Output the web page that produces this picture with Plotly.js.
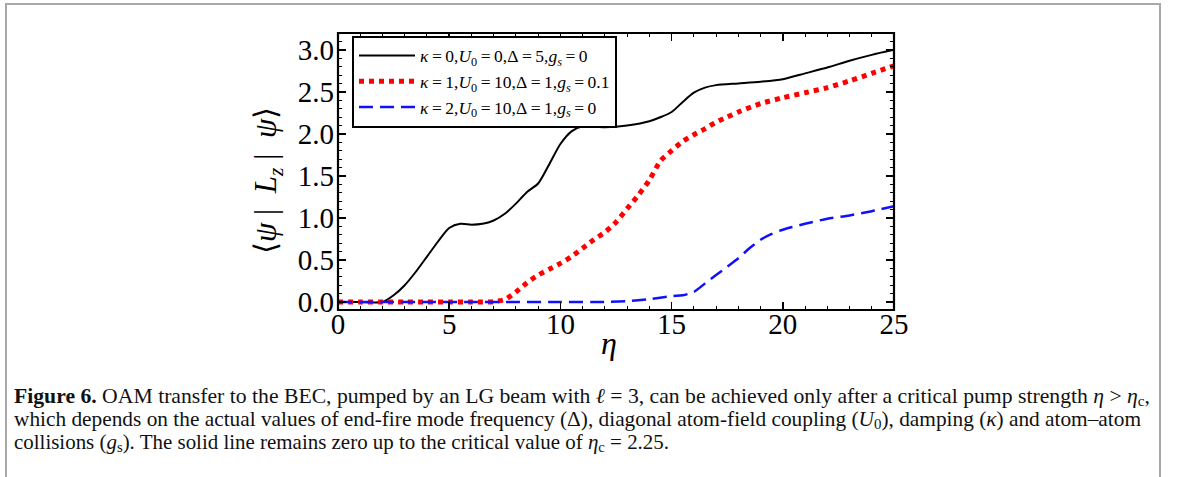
<!DOCTYPE html>
<html>
<head>
<meta charset="utf-8">
<script src="https://cdn.plot.ly/plotly-3.0.1.min.js"></script>
<style>
  html, body { margin:0; padding:0; background:#fff; }
  #wrap { position:relative; width:1179px; height:477px; overflow:hidden; background:#fff; }
  #plot { position:absolute; left:0; top:0; width:1179px; height:477px; }
  #frame { position:absolute; left:5px; top:3px; width:1156px; height:480px; border:2px solid #a8a8a8; box-sizing:border-box; pointer-events:none; }
  .cap { position:absolute; left:14px; white-space:nowrap; font-family:"Liberation Serif", serif; font-size:21px; line-height:23px; color:#111; transform-origin:0 50%; }
  .cap sub { font-size:70%; vertical-align:-3px; line-height:0; }
</style>
</head>
<body>
<div id="wrap">
  <div id="plot"></div>
  <div id="frame"></div>
  <div class="cap" id="c1" data-w="1136" style="top:385px"><b>Figure 6.</b> OAM transfer to the BEC, pumped by an LG beam with <i>ℓ</i> = 3, can be achieved only after a critical pump strength <i>η</i> &gt; <i>η</i><sub>c</sub>,</div>
  <div class="cap" id="c2" data-w="1127" style="top:408px">which depends on the actual values of end-fire mode frequency (Δ), diagonal atom-field coupling (<i>U</i><sub>0</sub>), damping (<i>κ</i>) and atom–atom</div>
  <div class="cap" id="c3" data-w="655" style="top:431px">collisions (<i>g</i><sub>s</sub>). The solid line remains zero up to the critical value of <i>η</i><sub>c</sub> = 2.25.</div>
</div>
<script>
// ---- data ----
var etaBlack = [0,1,2,2.5,3,3.5,4,4.5,5,5.5,6,6.5,7,7.5,8,8.5,9,9.5,10,10.5,11,12,13,14,15,15.5,16,16.5,17,18,19,20,21,22,23,24,25];
var lzBlack  = [0,0,0,0.08,0.2,0.36,0.54,0.72,0.88,0.93,0.92,0.93,0.97,1.05,1.17,1.31,1.41,1.64,1.88,2.03,2.09,2.08,2.10,2.15,2.26,2.38,2.49,2.55,2.58,2.60,2.62,2.65,2.72,2.79,2.87,2.94,3.00];

var etaRed = [0,1,2,3,4,5,6,6.5,7,7.5,8,8.5,9,9.5,10,10.5,11,11.5,12,12.5,13,13.5,14,14.5,15,15.5,16,16.5,17,17.5,18,19,20,21,22,23,24,25];
var lzRed  = [0,0,0,0,0,0,0,0,0.005,0.03,0.12,0.23,0.32,0.39,0.46,0.54,0.64,0.74,0.83,0.95,1.11,1.27,1.45,1.68,1.80,1.91,1.99,2.06,2.14,2.20,2.26,2.36,2.43,2.49,2.55,2.63,2.72,2.81];

var etaBlue = [0,2,4,6,8,10,12,13,14,15,15.5,16,16.5,17,17.5,18,18.5,19,19.5,20,21,22,23,24,25];
var lzBlue  = [0,0,0,0,0,0,0,0.01,0.035,0.07,0.08,0.12,0.22,0.32,0.42,0.52,0.64,0.74,0.81,0.86,0.93,0.99,1.03,1.08,1.14];

var th = "\u2009";
var nameBlack = "<i>κ</i>"+th+"="+th+"0,<i>U</i><sub>0</sub>"+th+"="+th+"0,Δ"+th+"="+th+"5,<i>g</i><sub><i>s</i></sub>"+th+"="+th+"0";
var nameRed   = "<i>κ</i>"+th+"="+th+"1,<i>U</i><sub>0</sub>"+th+"="+th+"10,Δ"+th+"="+th+"1,<i>g</i><sub><i>s</i></sub>"+th+"="+th+"0.1";
var nameBlue  = "<i>κ</i>"+th+"="+th+"2,<i>U</i><sub>0</sub>"+th+"="+th+"10,Δ"+th+"="+th+"1,<i>g</i><sub><i>s</i></sub>"+th+"="+th+"0";

var xTickVals = [0,5,10,15,20,25];
var yTickVals = [0,0.5,1,1.5,2,2.5,3];

var serif = "Liberation Serif, Times New Roman, serif";

var traces = [
  {x: etaBlack, y: lzBlack, name: nameBlack, mode: 'lines',
   line: {color: '#000', width: 2, shape: 'spline', smoothing: 0.7}},
  {x: etaRed, y: lzRed, name: nameRed, mode: 'lines',
   line: {color: '#ff0000', width: 5, dash: '5px,5px', shape: 'spline', smoothing: 0.7}},
  {x: etaBlue, y: lzBlue, name: nameBlue, mode: 'lines',
   line: {color: '#1010ff', width: 2.5, dash: '14px,7px', shape: 'spline', smoothing: 0.7}},
  // empty trace that carries the mirrored top/right tick axes
  {x: [], y: [], xaxis: 'x2', yaxis: 'y2', showlegend: false, hoverinfo: 'skip'}
];

var L = 338, R = 894, T = 33, B = 310;
var tickCommon = {ticks: 'inside', ticklen: 8, tickwidth: 1.5, tickcolor: '#000',
                  showline: false, showgrid: false, zeroline: false};
var layout = {
  width: 1179, height: 477,
  margin: {l: L, r: 1179 - R, t: T, b: 477 - B, pad: 0},
  paper_bgcolor: 'rgba(0,0,0,0)', plot_bgcolor: '#fff',
  showlegend: true,
  legend: {x: (352 - L) / (R - L), y: (B - 35.5) / (B - T), xanchor: 'left', yanchor: 'top',
           bgcolor: '#fff', bordercolor: '#000', borderwidth: 2,
           font: {family: serif, size: 17.5, color: '#000'}, tracegroupgap: 0, itemwidth: 56},
  xaxis: Object.assign({range: [0, 25], tickvals: xTickVals, ticklabelstandoff: -6,
          minor: {dtick: 1, ticks: 'inside', ticklen: 4, tickwidth: 1, tickcolor: '#000', showgrid: false},
          tickfont: {family: serif, size: 29, color: '#000'}}, tickCommon),
  yaxis: Object.assign({range: [-0.095, 3.2], tickvals: yTickVals, tickformat: '.1f', ticklabelstandoff: 3,
          minor: {dtick: 0.1, ticks: 'inside', ticklen: 4, tickwidth: 1, tickcolor: '#000', showgrid: false},
          tickfont: {family: serif, size: 29, color: '#000'}}, tickCommon),
  xaxis2: Object.assign({range: [0, 25], tickvals: xTickVals, overlaying: 'x', side: 'top', anchor: 'y2',
          showticklabels: false,
          minor: {dtick: 1, ticks: 'inside', ticklen: 4, tickwidth: 1, tickcolor: '#000', showgrid: false}}, tickCommon),
  yaxis2: Object.assign({range: [-0.095, 3.2], tickvals: yTickVals, overlaying: 'y', side: 'right', anchor: 'x2',
          showticklabels: false,
          minor: {dtick: 0.1, ticks: 'inside', ticklen: 4, tickwidth: 1, tickcolor: '#000', showgrid: false}}, tickCommon),
  shapes: [
    {type: 'rect', xref: 'paper', yref: 'paper', x0: 0, x1: 1, y0: 0, y1: 1,
     line: {color: '#000', width: 2.2}, fillcolor: 'rgba(0,0,0,0)', layer: 'above'}
  ],
  annotations: [
    {text: '<i>η</i>', xref: 'paper', yref: 'paper', x: (609 - L) / (R - L), y: (B - 343) / (B - T),
     xanchor: 'center', yanchor: 'middle', showarrow: false, font: {family: serif, size: 32, color: '#000'}},
    {text: '⟨<i>ψ</i> |  <i>L</i><sub><i>z</i></sub> |  <i>ψ</i>⟩', xref: 'paper', yref: 'paper',
     x: (268 - L) / (R - L), y: (B - 181) / (B - T), textangle: -90,
     xanchor: 'center', yanchor: 'middle', showarrow: false, font: {family: serif, size: 31, color: '#000'}}
  ]
};

Plotly.newPlot('plot', traces, layout, {displayModeBar: false, staticPlot: true});

function fitCaption() {
  ['c1','c2','c3'].forEach(function(id){
    var el = document.getElementById(id);
    el.style.transform = 'none';
    var w = el.getBoundingClientRect().width;
    var target = parseFloat(el.getAttribute('data-w'));
    if (w > 0) el.style.transform = 'scaleX(' + (target / w) + ')';
  });
}
fitCaption();
if (document.fonts && document.fonts.ready) document.fonts.ready.then(fitCaption);
</script>
</body>
</html>
